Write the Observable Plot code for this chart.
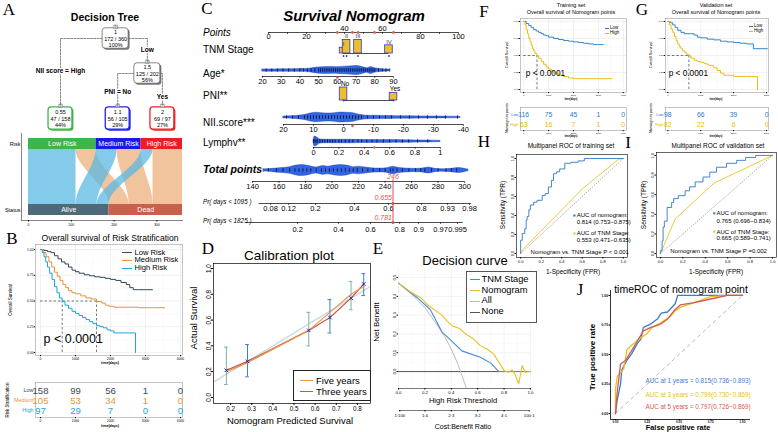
<!DOCTYPE html>
<html><head><meta charset="utf-8">
<script src="https://cdn.jsdelivr.net/npm/d3@7"></script>
<script src="https://cdn.jsdelivr.net/npm/@observablehq/plot@0.6"></script>
<style>
html,body{margin:0;padding:0;background:#fff;}
#root{position:relative;width:778px;height:432px;overflow:hidden;font-family:"Liberation Sans",Arial,sans-serif;color:#000;background:#fff;}
.t{position:absolute;white-space:nowrap;line-height:1;}
</style></head><body><div id="root"></div>
<script>
// ======================= DATA =======================
// A: decision tree
const treeIds = [1, 3, 2, 6, 7];
const treeParents = [null, 1, 1, 3, 3];
const treeValues = ["1", "1.5", "0.55", "1.1", "2"];
const treeFracs = ["172 / 360", "125 / 202", "47 / 158", "56 / 105", "69 / 97"];
const treePcts = ["100%", "56%", "44%", "29%", "27%"];
const treeEdgeLabels = [null, "Low", "NII score = High", "PNI = No", "Yes"];
// A: alluvial
const riskGroups = ["Low Risk", "Medium Risk", "High Risk"];
const statusGroups = ["Alive", "Dead"];
const aliveCounts = [111, 49, 28];
const deadCounts = [47, 56, 69];
const alluvialTicks = [0, 100, 200, 300];

// B: KM by risk group
const kmGroupsB = ["Low", "Medium", "High"];
const kmBLowT = [0,100,200,300,400,500,600,700,800,900,1000,1100,1250,1400,1550,1700,1850,2000,2150,2300,2450,2550,2650,2800,3000,3200];
const kmBLowS = [1,0.99,0.98,0.97,0.94,0.91,0.88,0.86,0.83,0.80,0.785,0.77,0.755,0.745,0.735,0.73,0.72,0.71,0.70,0.68,0.66,0.63,0.61,0.61,0.61,0.61];
const kmBMedT = [0,80,160,240,320,400,480,560,640,720,800,900,1000,1150,1300,1450,1600,1750,1850,1950,2100,2400,2800,3200,3550];
const kmBMedS = [1,0.97,0.93,0.88,0.83,0.78,0.74,0.70,0.66,0.63,0.60,0.58,0.57,0.55,0.53,0.52,0.495,0.48,0.46,0.45,0.44,0.44,0.435,0.435,0.435];
const kmBHighT = [0,50,100,150,200,260,330,400,470,540,620,700,800,900,1000,1100,1200,1300,1400,1500,1600,1700,1800,1900,2000,2100,2400,2714];
const kmBHighS = [1,0.97,0.93,0.88,0.83,0.77,0.71,0.64,0.58,0.53,0.495,0.46,0.43,0.40,0.38,0.36,0.34,0.32,0.30,0.28,0.26,0.25,0.24,0.22,0.21,0.19,0.19,0];
const kmTicks4 = [0, 1000, 2000, 3000, 4000];
const survTicks = [0, 0.25, 0.5, 0.75, 1];
const riskBLow = [158, 99, 56, 1, 0];
const riskBMedium = [105, 53, 34, 1, 0];
const riskBHigh = [97, 29, 7, 0, 0];
const pvalText = "p < 0.0001";

// C: nomogram
const pointsTicks = [0, 20, 40, 60, 80, 100];
const tnmStages = ["I", "II", "III", "IV"];
const tnmPoints = [39.5, 41.1, 47.1, 63.4];
const tnmProps = [0.14, 0.33, 0.33, 0.20];
const pniLevels = ["No", "Yes"];
const pniPoints = [39.5, 65.8];
const pniProps = [0.63, 0.37];
const ageTicks = [20, 30, 40, 50, 60, 70, 80, 90];
const ageAxisPts = [-3.2, 65.8];          // points at age 20 and 90
const niiTicks = [20, 10, 0, -10, -20, -30, -40];
const niiAxisPts = [7.9, 102.6];          // points at NII 20 and -40
const lymTicks = [0, 0.2, 0.4, 0.6, 0.8, 1];
const lymAxisPts = [23.7, 90.5];          // points at 0 and 1
const totTicks = [140, 160, 180, 200, 220, 240, 260, 280, 300];
const totAxisPts = [-8.4, 103.2];         // points at total 140 and 300
const pr1095Ticks = ["0.08","0.12","0.2","0.4","0.6","0.8","0.93","0.98"];
const pr1095AtTotal = [153.6,167.2,187.5,217,242.6,267.5,287.2,303.8];
const pr1825Ticks = ["0.2","0.4","0.6","0.8","0.9","0.97","0.995"];
const pr1825AtTotal = [174,204.9,229,251,265.3,281.9,294.7];
const ageDensX = [20,35,45,48,52,56,60,64,68,71,74,76,78,80,84,88];
const ageDensY = [0.25,0.3,0.4,0.6,0.75,0.8,0.75,0.85,0.95,1,0.7,0.5,0.8,0.5,0.3,0.2];
const ageObs = [22,25,28,31,34,37,40,42,44,46,48,50,51,52,53,54,55,56,57,58,59,60,61,62,63,64,65,66,67,68,69,70,71,72,73,74,75,76,77,78,79,80,82,84,86,88];
const niiDensX = [20,16,13,11,9,7,5,3,1,-1,-3,-5,-7,-10,-15,-20,-30,-39];
const niiDensY = [0.2,0.3,0.5,0.8,0.95,0.85,0.8,0.85,1,0.95,0.9,0.6,0.4,0.35,0.3,0.25,0.2,0.15];
const niiObs = [19,17,15,13,12,11,10,9,8,7,6,5,4,3,2,1,0,-1,-2,-3,-4,-5,-6,-8,-10,-12,-14,-16,-19,-22,-25,-28,-31,-34,-38];
const lymDensX = [0,0.01,0.03,0.05,0.1,0.2,0.3,0.4,0.5,0.6,0.7,0.85,1.0];
const lymDensY = [0.3,1,0.8,0.45,0.35,0.35,0.35,0.3,0.3,0.28,0.25,0.2,0.15];
const lymObs = [0,0.01,0.02,0.03,0.05,0.07,0.09,0.11,0.13,0.15,0.17,0.2,0.22,0.25,0.28,0.31,0.35,0.38,0.42,0.46,0.5,0.55,0.6,0.65,0.7,0.75,0.82,0.9];
const totDensX = [149,155,162,168,173,178,183,188,193,197,202,207,212,216,220,224,230,236,241,246,250,256,262,268,273,278,285,290,296,300,303];
const totDensY = [0.2,0.3,0.45,0.6,0.9,1,0.8,0.55,0.8,0.7,0.9,1,0.85,0.6,0.7,0.6,0.4,0.35,0.4,0.7,0.5,0.35,0.3,0.35,0.55,0.3,0.25,0.3,0.45,0.3,0.15];
const totObs = [148,152,158,163,168,172,175,178,181,184,188,192,195,198,201,204,207,210,213,216,219,223,227,231,236,240,244,246,249,253,258,263,267,270,275,280,286,290,294];
const selAge = 60, selTnm = "III", selPni = "Yes", selNii = -3, selLym = 0.48;
const selTotal = 246, selPr1095 = "0.655", selPr1825 = "0.781";

// D: calibration
const calibPred = [0.18, 0.28, 0.57, 0.67, 0.77, 0.83];
const calib3y = [0.21, 0.28, 0.52, 0.62, 0.77, 0.88];
const calib5y = [0.20, 0.27, 0.52, 0.66, 0.80, 0.86];
const calibLo = [0.10, 0.16, 0.40, 0.50, 0.68, 0.79];
const calibHi = [0.39, 0.41, 0.66, 0.76, 0.90, 0.96];
const calibXTicks = [0.2, 0.3, 0.4, 0.5, 0.6, 0.7, 0.8];
const calibYTicks = [0, 0.2, 0.4, 0.6, 0.8, 1];

// E: decision curve
const dcaNomT = [0,0.1,0.165,0.228,0.29,0.33,0.367,0.405,0.44,0.468,0.5,0.53,0.57,0.62,0.67,0.72,0.76,0.80,0.835,0.86,0.886,0.91,0.937,0.96,1.0];
const dcaNomNB = [0.47,0.42,0.394,0.35,0.32,0.30,0.27,0.244,0.235,0.226,0.205,0.19,0.173,0.138,0.12,0.094,0.05,0.005,-0.004,0.01,-0.02,-0.065,0.032,-0.004,0.0];
const dcaTnmT = [0,0.14,0.24,0.33,0.40,0.48,0.62,0.70,0.76,1.0];
const dcaTnmNB = [0.47,0.394,0.33,0.21,0.165,0.11,0.076,0.045,0.0,0.0];
const dcaAllT = [0,0.1,0.2,0.3,0.35,0.4,0.45,0.5,0.52];
const dcaAllNB = [0.47,0.41,0.34,0.24,0.185,0.12,0.04,-0.06,-0.1];
const dcaNoneT = [0, 1];
const dcaNoneNB = [0, 0];
const dcaXTicks = [0, 0.2, 0.4, 0.6, 0.8, 1];
const dcaYTicks = [0, 0.1, 0.2, 0.3, 0.4, 0.5];
const costThresh = [0.01, 0.2, 0.4, 0.6, 0.8, 0.99];
const costLabels = ["1:100", "1:4", "2:3", "3:2", "4:1", "100:1"];

// F: training KM
const kmGroupsFG = ["Low", "High"];
const kmFLowT = [0,100,200,300,400,500,600,700,800,900,1000,1200,1400,1600,1800,2000,2200,2400,2600,2800,3000,3200];
const kmFLowS = [1,0.97,0.94,0.91,0.88,0.86,0.84,0.82,0.80,0.79,0.77,0.75,0.735,0.72,0.71,0.70,0.69,0.68,0.67,0.66,0.66,0.66];
const kmFHighT = [0,50,100,150,200,250,300,350,400,450,533,600,700,800,900,1000,1100,1200,1400,1600,1800,2000,2500,3000,3550];
const kmFHighS = [1,0.95,0.88,0.82,0.76,0.70,0.65,0.60,0.57,0.53,0.495,0.46,0.41,0.37,0.33,0.30,0.27,0.24,0.21,0.19,0.17,0.16,0.16,0.16,0.16];
const riskFLow = [116, 75, 45, 1, 0];
const riskFHigh = [63, 16, 7, 1, 0];
// G: validation KM
const kmGLowT = [0,75,150,225,300,400,500,700,800,900,1000,1200,1400,1600,1800,2000,2200,2400,2600,2800,3030];
const kmGLowS = [1,0.98,0.95,0.91,0.87,0.84,0.82,0.82,0.80,0.77,0.76,0.74,0.73,0.71,0.70,0.69,0.68,0.67,0.60,0.60,0.60];
const kmGHighT = [0,50,100,150,200,250,300,350,400,450,500,560,640,700,800,900,1000,1100,1200,1300,1400,1500,1600,1700,2000,2400,2727];
const kmGHighS = [1,0.95,0.89,0.84,0.78,0.72,0.67,0.63,0.60,0.57,0.55,0.52,0.495,0.46,0.43,0.41,0.40,0.38,0.36,0.35,0.32,0.28,0.24,0.21,0.19,0.19,0];
const kmTicks3 = [0, 1000, 2000, 3000];
const riskGLow = [98, 66, 39, 0];
const riskGHigh = [82, 22, 6, 0];

// H, I: ROC
const rocTicks = [0, 0.2, 0.4, 0.6, 0.8, 1];
const hNomF = [0,0,0.016,0.04,0.054,0.063,0.08,0.095,0.127,0.16,0.21,0.24,0.27,0.30,0.32,0.35,0.38,0.43,0.49,0.56,0.62,0.68,1];
const hNomT = [0,0.105,0.14,0.21,0.26,0.35,0.39,0.46,0.51,0.54,0.56,0.61,0.63,0.70,0.77,0.84,0.86,0.89,0.95,0.96,0.975,1,1];
const hTnmF = [0, 0.02, 0.6, 0.95, 1];
const hTnmT = [0, 0.04, 0.68, 0.99, 1];
const hTexts = ["AUC of nomogram:", "0.814 (0.753\u22120.875)", "AUC of TNM Stage:", "0.553 (0.471\u22120.635)", "Nomogram vs. TNM Stage P < 0.001"];
const iNomF = [0,0.015,0.024,0.035,0.06,0.10,0.118,0.16,0.22,0.26,0.31,0.38,0.44,0.5,0.59,0.68,0.76,0.85,0.94,1];
const iNomT = [0,0.03,0.13,0.27,0.33,0.47,0.52,0.56,0.59,0.64,0.68,0.73,0.78,0.83,0.88,0.92,0.95,0.98,1,1];
const iTnmF = [0, 0.13, 0.48, 1];
const iTnmT = [0, 0.35, 0.72, 1];
const iTexts = ["AUC of nomogram:", "0.765 (0.696\u22120.834)", "AUC of TNM Stage:", "0.665 (0.589\u22120.741)", "Nomogram vs. TNM Stage P =0.002"];

// J: timeROC
const jTicks = [0, 0.25, 0.5, 0.75, 1];
const j1F = [0,0.013,0.04,0.05,0.09,0.13,0.17,0.2,0.22,0.28,0.33,0.36,0.41,0.47,0.49,1];
const j1T = [0,0.11,0.25,0.37,0.45,0.51,0.59,0.63,0.73,0.76,0.8,0.85,0.86,0.93,1,1];
const j3F = [0,0,0.013,0.066,0.09,0.13,0.17,0.25,0.29,0.36,0.43,0.46,0.51,0.62,0.75,0.88,1];
const j3T = [0.01,0.2,0.31,0.38,0.54,0.58,0.62,0.68,0.73,0.77,0.82,0.86,0.9,0.94,0.99,1,1];
const j5F = [0,0.013,0.04,0.08,0.12,0.17,0.22,0.28,0.36,0.41,0.46,0.51,0.62,0.75,0.88,1];
const j5T = [0,0.17,0.42,0.45,0.52,0.61,0.70,0.73,0.76,0.80,0.87,0.92,0.94,0.97,1,1];
const jTexts = ["AUC at 1 years = 0.815(0.736\u22120.893)", "AUC at 3 years = 0.799(0.730\u22120.869)", "AUC at 5 years = 0.797(0.726\u22120.869)"];

// ======================= HELPERS =======================
const root = document.getElementById("root");
const FONT = "'Liberation Sans', Arial, sans-serif";
const SERIF = "'Liberation Serif', 'DejaVu Serif', serif";
function put(svg, left, top) {
  svg.style.position = "absolute"; svg.style.left = left + "px"; svg.style.top = top + "px";
  svg.style.background = "transparent"; svg.style.overflow = "visible"; svg.style.maxWidth = "none";
  root.appendChild(svg);
}
function plot(o) {
  return Plot.plot({style: {fontFamily: FONT, background: "transparent", overflow: "visible"}, color: {type: "identity"}, ...o});
}
function T(s, x, y, o = {}) {
  const d = document.createElement("div");
  d.className = "t"; d.textContent = s;
  const a = o.anchor || "middle";
  const tx = a === "start" ? "0" : a === "end" ? "-100%" : "-50%";
  Object.assign(d.style, {left: x + "px", top: y + "px", fontSize: (o.size || 8) + "px",
    fontWeight: o.weight || "normal", fontStyle: o.style || "normal", color: o.color || "#000",
    fontFamily: o.family || FONT,
    transform: `translate(${tx},-50%)` + (o.rotate ? ` rotate(${o.rotate}deg)` : "")});
  root.appendChild(d);
}
function boxDiv(x, y, w, h, border) {
  const d = document.createElement("div");
  Object.assign(d.style, {position: "absolute", left: x + "px", top: y + "px", width: w + "px", height: h + "px",
    border: border, background: "#fff", boxSizing: "border-box"});
  root.appendChild(d);
}
function legendHTML(x, y, items, o = {}) {
  const size = o.size || 8, row = o.row || 10, sw = o.sw || 10, gap = o.gap || 2, lw = o.lw || 1.2;
  items.forEach(([label, color], i) => {
    const s = document.createElement("div");
    Object.assign(s.style, {position: "absolute", left: x + "px", top: (y + i * row - lw / 2) + "px",
      width: sw + "px", height: "0px", borderTop: `${lw}px solid ${color}`});
    root.appendChild(s);
    T(label, x + sw + gap, y + i * row, {anchor: "start", size, color: o.textColor || "#000"});
  });
}
const zipXY = (xs, ys, extra = {}) => xs.map((x, i) => ({x, y: ys[i], ...extra}));

// ======================= PANEL A =======================
T("A", 9, 9, {size: 17, family: SERIF});
T("Decision Tree", 105, 17, {size: 10.5, weight: "bold"});
{
  const nodes = treeIds.map((id, i) => ({id, parent: treeParents[i], value: treeValues[i], frac: treeFracs[i], pct: treePcts[i], edge: treeEdgeLabels[i]}));
  const byId = {}; nodes.forEach(n => byId[n.id] = n);
  // rpart.plot-like layout (layout constants, not data)
  const treeCol = {1: 1.06, 3: 1.67, 2: 0, 6: 1.10, 7: 1.96};
  const treeDepth = {1: 0, 3: 0.875, 2: 2, 6: 2, 7: 2};
  const labelFrac = {3: 0.34, 2: 0.4, 6: 0.4, 7: 0.53};
  nodes.forEach(n => { n.col = treeCol[n.id]; n.depth = treeDepth[n.id]; n.leaf = !treeParents.includes(n.id); });
  const leafColor = {2: "#3DB549", 6: "#2323E3", 7: "#EE2424"};
  const hw = n => n.leaf ? 0.23 : 0.25, hh = n => n.leaf ? 0.28 : 0.255;
  const edgePts = nodes.filter(n => n.parent != null).flatMap(n => {
    const p = byId[n.parent];
    return [{e: n.id, x: p.col, y: p.depth}, {e: n.id, x: n.col, y: p.depth}, {e: n.id, x: n.col, y: n.depth}];
  });
  const children = nodes.filter(n => n.parent != null);
  const svg = plot({width: 200, height: 115, margin: 0,
    x: {domain: [0, 2], range: [60, 164], axis: null}, y: {domain: [0, 2], range: [18, 98], axis: null},
    marks: [
      Plot.line(edgePts, {x: "x", y: "y", z: "e", stroke: "#555", strokeWidth: 0.7, strokeDasharray: "2,1.3"}),
      Plot.text(children, {x: "col", y: n => byId[n.parent].depth + labelFrac[n.id] * (n.depth - byId[n.parent].depth), text: "edge",
        fontSize: 6.5, fontWeight: "bold", fill: "#000", stroke: "white", strokeWidth: 2.5}),
      Plot.rect(nodes, {x1: n => n.col - hw(n), x2: n => n.col + hw(n), y1: n => n.depth - hh(n), y2: n => n.depth + hh(n),
        fill: n => n.leaf ? leafColor[n.id] : "#777", dx: 1.5, dy: 1.5, rx: 3}),
      Plot.rect(nodes, {x1: n => n.col - hw(n), x2: n => n.col + hw(n), y1: n => n.depth - hh(n), y2: n => n.depth + hh(n),
        fill: "white", stroke: n => n.leaf ? leafColor[n.id] : "#555", strokeWidth: n => n.leaf ? 1.3 : 0.7, rx: 3}),
      Plot.text(nodes, {x: "col", y: "depth", text: n => `${n.value}\n${n.frac}\n${n.pct}`, fontSize: 5.5, lineHeight: 1.15}),
      Plot.dot(nodes, {x: "col", y: n => n.depth - hh(n), dy: -1.5, symbol: "square", r: 2, fill: "#eee", stroke: "#444", strokeWidth: 0.4}),
      Plot.text(nodes, {x: "col", y: n => n.depth - hh(n), dy: -1.5, text: n => String(n.id), fontSize: 3.2})
    ]});
  put(svg, 0, 20);
}
{
  const riskColors = ["#3DB549", "#1A1AE6", "#EE1C25"];
  const riskTotals = riskGroups.map((g, i) => aliveCounts[i] + deadCounts[i]);
  let cum = 0;
  const riskRects = riskGroups.map((g, i) => { const r = {g, x1: cum, x2: cum + riskTotals[i], fill: riskColors[i]}; cum += riskTotals[i]; return r; });
  const aliveTotal = d3.sum(aliveCounts), deadTotal = d3.sum(deadCounts);
  const statusRects = [{g: statusGroups[0], x1: 0, x2: aliveTotal, fill: "#4E6A78"}, {g: statusGroups[1], x1: aliveTotal, x2: aliveTotal + deadTotal, fill: "#C8604C"}];
  const flows = []; let aCum = 0, dCum = aliveTotal;
  riskGroups.forEach((g, i) => {
    const t0 = riskRects[i].x1;
    flows.push({key: g + "D", top: [t0 + aliveCounts[i], riskRects[i].x2], bot: [dCum, dCum + deadCounts[i]], fill: "#EDB07C"});
    flows.push({key: g + "A", top: [t0, t0 + aliveCounts[i]], bot: [aCum, aCum + aliveCounts[i]], fill: "#5BB8E4"});
    aCum += aliveCounts[i]; dCum += deadCounts[i];
  });
  flows.sort((a, b) => (a.key.endsWith("D") ? 0 : 1) - (b.key.endsWith("D") ? 0 : 1));
  const Y0 = 0.143, Y1 = 0.857;
  const flowPts = flows.flatMap(f => d3.range(0, 31).map(k => {
    const t = k / 30, s = t * t * (3 - 2 * t);
    return {key: f.key, fill: f.fill, y: Y0 + (Y1 - Y0) * t, x1: f.top[0] + (f.bot[0] - f.top[0]) * s, x2: f.top[1] + (f.bot[1] - f.top[1]) * s};
  }));
  const svg = plot({width: 190, height: 100, marginLeft: 21, marginRight: 7, marginTop: 3, marginBottom: 10,
    x: {domain: [-16.4, 362.3], axis: null}, y: {domain: [-0.065, 1.065], reverse: true, axis: null},
    marks: [
      Plot.areaX(flowPts, {y: "y", x1: "x1", x2: "x2", z: "key", fill: "fill", fillOpacity: 0.75}),
      Plot.rect(riskRects, {x1: "x1", x2: "x2", y1: () => 0, y2: () => Y0, fill: "fill"}),
      Plot.rect(statusRects, {x1: "x1", x2: "x2", y1: () => Y1, y2: () => 1, fill: "fill"}),
      Plot.text(riskRects, {x: d => (d.x1 + d.x2) / 2, y: () => Y0 / 2, text: "g", fill: "white", fontSize: 7}),
      Plot.text(statusRects, {x: d => (d.x1 + d.x2) / 2, y: () => (Y1 + 1) / 2, text: "g", fill: "white", fontSize: 7}),
      Plot.ruleX([-16.4], {stroke: "#333", strokeWidth: 0.6}),
      Plot.ruleY([1.065], {stroke: "#333", strokeWidth: 0.6}),
      Plot.axisX({ticks: alluvialTicks, tickSize: 1.5, tickPadding: 1, fontSize: 3.5, label: null}),
      Plot.text(["Risk", "Status"], {frameAnchor: "left", y: (d, i) => i ? (Y1 + 1) / 2 : Y0 / 2, text: d => d, textAnchor: "end", dx: -1, fontSize: 5.5})
    ]});
  put(svg, 0, 130);
}

// ======================= KM helper =======================
function median(ts, ss) { const j = ss.findIndex(v => v <= 0.5); return j < 0 ? null : ts[j]; }
function kmPanel(o) {
  const rows = o.groups.flatMap((g, i) => o.ts[i].map((t, j) => ({g, t, s: o.ss[i][j]})));
  const meds = o.groups.map((g, i) => median(o.ts[i], o.ss[i])).filter(d => d != null);
  const mx = d3.max(meds);
  const xMinor = o.xticks.slice(0, -1).map(d => d + (o.xticks[1] - o.xticks[0]) / 2);
  const svg = plot({width: o.w, height: o.h, marginLeft: o.mL, marginRight: o.mR, marginTop: o.mT, marginBottom: o.mB,
    x: {domain: o.xDom, axis: null}, y: {domain: o.yDom, axis: null},
    marks: [
      Plot.gridX(xMinor, {stroke: "#f2f2f2", strokeOpacity: 1, strokeWidth: 0.4}),
      Plot.gridY([0.125, 0.375, 0.625, 0.875], {stroke: "#f2f2f2", strokeOpacity: 1, strokeWidth: 0.4}),
      Plot.gridX(o.xticks, {stroke: "#e2e2e2", strokeOpacity: 1, strokeWidth: 0.5}),
      Plot.gridY(survTicks, {stroke: "#e2e2e2", strokeOpacity: 1, strokeWidth: 0.5}),
      Plot.frame({stroke: "#8a8a8a", strokeWidth: 0.5}),
      Plot.ruleY([0.5], {x1: () => 0, x2: () => mx, stroke: "#222", strokeDasharray: "2.5,2", strokeWidth: 0.6}),
      Plot.ruleX(meds, {x: d => d, y1: () => 0, y2: () => 0.5, stroke: "#222", strokeDasharray: "2.5,2", strokeWidth: 0.6}),
      Plot.line(rows, {x: "t", y: "s", z: "g", stroke: d => o.colors[d.g], curve: "step-after", strokeWidth: o.lw}),
      Plot.text([pvalText], {x: () => o.pXY[0], y: () => o.pXY[1], text: d => d, fontSize: o.pfs, textAnchor: "start"}),
      Plot.axisX({ticks: o.xticks, tickFormat: d => String(d), tickSize: 1.2, tickPadding: 0.8, fontSize: o.fs, label: null}),
      Plot.axisY({ticks: survTicks, tickFormat: d3.format(".2f"), tickSize: 1.2, tickPadding: 0.8, fontSize: o.fs, label: null})
    ]});
  put(svg, o.left, o.top);
}
function riskTable(o) {
  const rows = o.groups.flatMap((g, i) => o.xticks.map((t, j) => ({g, t, n: String(o.counts[i][j])})));
  const svg = plot({width: o.w, height: o.h, marginLeft: o.mL, marginRight: o.mR, marginTop: o.mT, marginBottom: o.mB,
    x: {domain: o.xDom, axis: null}, y: {type: "point", domain: o.groups, padding: o.pad, axis: null},
    marks: [
      Plot.frame({stroke: "#8a8a8a", strokeWidth: 0.5}),
      Plot.text(rows, {x: "t", y: "g", text: "n", fill: d => o.colors[d.g], fontSize: o.nfs}),
      Plot.text(o.groups, {frameAnchor: "left", y: d => d, text: d => d, fill: d => o.colors[d], textAnchor: "end", dx: -2, fontSize: o.lfs}),
      Plot.axisX({ticks: o.xticks, tickFormat: d => String(d), tickSize: 1.2, tickPadding: 0.8, fontSize: o.fs, label: null})
    ]});
  put(svg, o.left, o.top);
}

// ======================= PANEL B =======================
const colB = {Low: "#2F4A59", Medium: "#E8923A", High: "#1AA6DA"};
T("B", 12, 238, {size: 17, family: SERIF});
T("Overall survival of Risk Stratification", 110, 238, {size: 8.6});
kmPanel({left: 0, top: 240, w: 190, h: 140, mL: 35, mR: 8, mT: 4, mB: 25, xDom: [-143, 4057], yDom: [-0.029, 1.049],
  groups: kmGroupsB, ts: [kmBLowT, kmBMedT, kmBHighT], ss: [kmBLowS, kmBMedS, kmBHighS], colors: colB,
  xticks: kmTicks4, fs: 3.3, lw: 1, pXY: [86, 0.136], pfs: 12.5});
legendHTML(122, 252.5, [["Low Risk", colB.Low], ["Medium Risk", colB.Medium], ["High Risk", colB.High]], {size: 7.6, row: 7.8, sw: 10, gap: 2.5, lw: 1.1});
T("Overall Survival", 11, 300, {size: 4.5, rotate: -90});
T("time(days)", 110, 363.5, {size: 3.6, weight: "bold"});
riskTable({left: 0, top: 375, w: 190, h: 57, mL: 35, mR: 8, mT: 7, mB: 15, xDom: [-143, 4057],
  groups: kmGroupsB, counts: [riskBLow, riskBMedium, riskBHigh], colors: colB, xticks: kmTicks4, pad: 0.6, nfs: 9.5, lfs: 5.5, fs: 3.3});
T("Risk Stratification", 8, 400, {size: 4.5, rotate: -90});
T("time(days)", 110, 426.5, {size: 3.6, weight: "bold"});

// ======================= PANEL C =======================
T("C", 207, 8, {size: 17, family: SERIF});
T("Survival Nomogram", 354, 15, {size: 15, weight: "bold", style: "italic"});
{
  const NY = {points: 32, tnm: 53, ageV: 70, age: 76, pni: 100, niiV: 117, nii: 124, lymV: 141, lym: 147, totV: 170, tot: 181, p3: 203, p5: 222};
  const toAge = d3.scaleLinear([20, 90], ageAxisPts);
  const toNii = d3.scaleLinear([20, -40], niiAxisPts);
  const toLym = d3.scaleLinear([0, 1], lymAxisPts);
  const toTot = d3.scaleLinear([140, 300], totAxisPts);
  function nAxis(items, yl, ldy, fs = 7.5, ext = [0, 0]) {
    const xs = items.map(d => d.x); const lo = d3.min(xs) - ext[0], hi = d3.max(xs) + ext[1];
    return [
      Plot.ruleY([yl], {x1: () => lo, x2: () => hi, stroke: "#000", strokeWidth: 0.7}),
      Plot.ruleX(items, {x: "x", y1: () => yl, y2: () => yl + 2, stroke: "#000", strokeWidth: 0.6}),
      Plot.text(items, {x: "x", y: d => yl + (d.dy ?? ldy), text: "label", fontSize: fs})
    ];
  }
  function violin(xs, ds, conv, yc, k, obs) {
    const pts = xs.map((x, i) => ({x: conv(x), h: ds[i] * k}));
    return [
      Plot.areaY(pts, {x: "x", y1: d => yc - d.h, y2: d => yc + d.h, curve: "catmull-rom", fill: "#3165E3", stroke: "#1B3AB0", strokeWidth: 0.4}),
      Plot.ruleX(obs, {x: conv, y1: () => yc - 1.7, y2: () => yc + 1.7, stroke: "#000", strokeWidth: 0.7})
    ];
  }
  const tnm = tnmStages.map((s, i) => ({s, x: tnmPoints[i], h: 13.5 * tnmProps[i] / d3.max(tnmProps)}));
  const pni = pniLevels.map((s, i) => ({s, x: pniPoints[i], h: 13 * pniProps[i] / d3.max(pniProps)}));
  const selPts = [toAge(selAge), tnmPoints[tnmStages.indexOf(selTnm)], pniPoints[pniLevels.indexOf(selPni)], toNii(selNii), toLym(selLym)];
  const xSel = toTot(selTotal);
  const red = "#D9534F";
  const pointsItems = d3.range(0, 101, 10).map(v => ({x: v, label: pointsTicks.includes(v) ? String(v) : "", dy: (v === 40 || v === 60) ? -4 : 4.5}));
  const svg = plot({width: 278, height: 235, margin: 0,
    x: {domain: [0, 100], range: [68, 258], axis: null}, y: {domain: [0, 235], range: [0, 235], axis: null},
    marks: [
      ...nAxis(pointsItems, NY.points, 4.5),
      // TNM stage
      Plot.ruleY([NY.tnm], {x1: () => d3.min(tnmPoints), x2: () => d3.max(tnmPoints), stroke: "#000", strokeWidth: 0.7}),
      Plot.rect(tnm, {x1: d => d.x - 2, x2: d => d.x + 2, y1: d => NY.tnm - d.h, y2: () => NY.tnm, fill: "#EBC12B", stroke: "#3535C8", strokeWidth: 0.8}),
      Plot.text(tnm, {x: "x", y: d => NY.tnm - d.h - 3.5, text: "s", fontSize: 6, fill: "#444"}),
      Plot.dot(tnm, {x: "x", y: () => NY.tnm + 2.5, r: 0.9, fill: "#3535C8"}),
      // Age
      ...violin(ageDensX, ageDensY, toAge, NY.ageV, 4.5, ageObs),
      ...nAxis(ageTicks.map(v => ({x: toAge(v), label: String(v)})), NY.age, 5.5),
      // PNI
      Plot.ruleY([NY.pni], {x1: () => d3.min(pniPoints), x2: () => d3.max(pniPoints), stroke: "#000", strokeWidth: 0.7}),
      Plot.rect(pni, {x1: d => d.x - 2, x2: d => d.x + 2, y1: d => NY.pni - d.h, y2: () => NY.pni, fill: "#EBC12B", stroke: "#3535C8", strokeWidth: 0.8}),
      Plot.text(pni, {x: "x", y: d => NY.pni - d.h - 3.5, text: "s", fontSize: 6.5, dx: 1.5}),
      Plot.dot(pni, {x: "x", y: () => NY.pni, r: 0.9, fill: "#3535C8"}),
      // NII score
      ...violin(niiDensX, niiDensY, toNii, NY.niiV, 5, niiObs),
      ...nAxis(niiTicks.map(v => ({x: toNii(v), label: String(v)})), NY.nii, 5.5),
      // Lymphv
      ...violin(lymDensX, lymDensY, toLym, NY.lymV, 5, lymObs),
      ...nAxis(lymTicks.map(v => ({x: toLym(v), label: String(v)})), NY.lym, 5.5),
      // Total points
      ...violin(totDensX, totDensY, toTot, NY.totV, 5.5, totObs),
      ...nAxis(totTicks.map(v => ({x: toTot(v), label: String(v)})), NY.tot, 5.5),
      // probabilities
      ...nAxis(pr1095Ticks.map((p, i) => ({x: toTot(pr1095AtTotal[i]), label: p})), NY.p3, 5.5, 7.5, [6, 1]),
      ...nAxis(pr1825Ticks.map((p, i) => ({x: toTot(pr1825AtTotal[i]), label: p})), NY.p5, 7.5, 7.5, [27, 3]),
      // selected patient (red)
      Plot.dot(selPts, {x: d => d, y: () => NY.points, r: 1.4, fill: "#E0605A"}),
      Plot.dot([toAge(selAge)], {x: d => d, y: () => NY.age + 1, r: 1.3, fill: "#E0605A"}),
      Plot.dot([toNii(selNii)], {x: d => d, y: () => NY.nii + 1.5, r: 1.3, fill: "#E0605A"}),
      Plot.dot([toLym(selLym)], {x: d => d, y: () => NY.lym, r: 1.3, fill: "#E0605A"}),
      Plot.ruleX([xSel], {x: d => d, y1: () => 179, y2: () => NY.p5, stroke: red, strokeWidth: 1}),
      Plot.text([String(selTotal)], {x: () => xSel, y: () => 176, text: d => d, fill: red, fontStyle: "italic", fontSize: 7}),
      Plot.text([selPr1095], {x: () => xSel, y: () => 197.5, text: d => d, fill: red, fontStyle: "italic", fontSize: 7, textAnchor: "end", dx: -1}),
      Plot.text([selPr1825], {x: () => xSel, y: () => 217, text: d => d, fill: red, fontStyle: "italic", fontSize: 7, textAnchor: "end", dx: -1}),
      Plot.dot([NY.p3, NY.p5], {x: () => xSel, y: d => d, r: 1.5, fill: red})
    ]});
  put(svg, 200, 0);
  T("Points", 203, 33, {size: 10, style: "italic", anchor: "start"});
  T("TNM Stage", 203, 49.5, {size: 10, anchor: "start"});
  T("Age*", 203, 74, {size: 10, anchor: "start"});
  T("PNI**", 203, 96, {size: 10, anchor: "start"});
  T("NII.score***", 203, 122.5, {size: 10, anchor: "start"});
  T("Lymphv**", 203, 142.5, {size: 10, anchor: "start"});
  T("Total points", 203, 168.5, {size: 10.5, style: "italic", weight: "bold", anchor: "start"});
  T("Pr( days < 1095 )", 203, 201.5, {size: 6.3, style: "italic", anchor: "start"});
  T("Pr( days < 1825 )", 203, 220.5, {size: 6.3, style: "italic", anchor: "start"});
}

// ======================= PANEL D =======================
T("D", 208, 248, {size: 17, family: SERIF});
T("Calibration plot", 289, 256, {size: 13.5});
{
  const calib = calibPred.map((p, i) => ({p, o3: calib3y[i], o5: calib5y[i], lo: calibLo[i], hi: calibHi[i], c: i % 2 ? "#3C80C4" : "#7FB39B"}));
  const xd = [0.119, 0.862];
  const svg = plot({width: 180, height: 172, marginLeft: 18, marginRight: 5, marginTop: 5, marginBottom: 27,
    x: {domain: xd, axis: null}, y: {domain: [-0.047, 1.039], axis: null},
    marks: [
      Plot.link([xd], {x1: d => d[0], y1: d => d[0], x2: d => d[1], y2: d => d[1], stroke: "#C9DCE4", strokeWidth: 1.6}),
      Plot.ruleX(calib, {x: "p", y1: "lo", y2: "hi", stroke: "c", strokeWidth: 1}),
      Plot.ruleY(calib, {y: "lo", x1: d => d.p - 0.009, x2: d => d.p + 0.009, stroke: "c", strokeWidth: 1}),
      Plot.ruleY(calib, {y: "hi", x1: d => d.p - 0.009, x2: d => d.p + 0.009, stroke: "c", strokeWidth: 1}),
      Plot.line(calib, {x: "p", y: "o3", stroke: "#CC5544", strokeWidth: 1.2}),
      Plot.line(calib, {x: "p", y: "o5", stroke: "#E89A4C", strokeWidth: 1.2}),
      Plot.dot(calib, {x: "p", y: "o3", symbol: "times", r: 1.8, stroke: "#2A2AD0", strokeWidth: 1}),
      Plot.frame({stroke: "#000", strokeWidth: 0.7}),
      Plot.axisX({ticks: calibXTicks, tickFormat: d3.format(".1f"), tickSize: 2, tickPadding: 1, fontSize: 6.3, label: null}),
      Plot.axisY({ticks: calibYTicks, tickFormat: d3.format(".1f"), tickSize: 2, tickPadding: 1, fontSize: 6.3, tickRotate: -90, label: null})
    ]});
  put(svg, 195, 258);
  boxDiv(293, 370, 78, 31, "1px solid #222");
  legendHTML(300, 381, [["Five years", "#E89A4C"], ["Three years", "#CC5544"]], {size: 9.5, row: 11, sw: 13, gap: 3, lw: 1.3});
  T("Nomogram Predicted Survival", 290, 421, {size: 9.5});
  T("Actual Survival", 194, 318, {size: 9.5, rotate: -90});
}

// ======================= PANEL E =======================
T("E", 378, 248, {size: 17, family: SERIF});
T("Decision curve", 465, 260, {size: 13});
{
  const cNom = "#E8C22A", cTnm = "#4A8AD0", cAll = "#BDBDBD", cNone = "#555";
  const svg = plot({width: 170, height: 170, marginLeft: 26, marginRight: 12, marginTop: 6, marginBottom: 44,
    x: {domain: [0, 1], axis: null}, y: {domain: [-0.09, 0.548], axis: null},
    marks: [
      Plot.gridX([0.1, 0.3, 0.5, 0.7, 0.9], {stroke: "#f3f3f3", strokeOpacity: 1, strokeWidth: 0.4}),
      Plot.gridY([0.05, 0.15, 0.25, 0.35, 0.45], {stroke: "#f3f3f3", strokeOpacity: 1, strokeWidth: 0.4}),
      Plot.gridX(dcaXTicks, {stroke: "#e6e6e6", strokeOpacity: 1, strokeWidth: 0.5}),
      Plot.gridY(dcaYTicks, {stroke: "#e6e6e6", strokeOpacity: 1, strokeWidth: 0.5}),
      Plot.line(zipXY(dcaNoneT, dcaNoneNB), {x: "x", y: "y", stroke: cNone, strokeWidth: 1}),
      Plot.line(zipXY(dcaAllT, dcaAllNB), {x: "x", y: "y", stroke: cAll, strokeWidth: 1, clip: true}),
      Plot.line(zipXY(dcaTnmT, dcaTnmNB), {x: "x", y: "y", stroke: cTnm, strokeWidth: 1.1}),
      Plot.line(zipXY(dcaNomT, dcaNomNB), {x: "x", y: "y", stroke: cNom, strokeWidth: 1.1}),
      Plot.ruleY([-0.09], {x1: () => 0, x2: () => 1, stroke: "#222", strokeWidth: 0.6}),
      Plot.axisX({ticks: dcaXTicks, tickFormat: d3.format(".1f"), tickSize: 1.5, tickPadding: 1, fontSize: 4.3, label: null}),
      Plot.axisY({ticks: dcaYTicks, tickFormat: d3.format(".1f"), tickSize: 1.5, tickPadding: 1, fontSize: 4.3, tickRotate: -90, label: null})
    ]});
  put(svg, 372, 262);
  const svg2 = plot({width: 170, height: 20, marginLeft: 26, marginRight: 12, marginTop: 0, marginBottom: 15,
    x: {domain: [0, 1], axis: null}, y: {domain: [0, 1], axis: null},
    marks: [
      Plot.ruleY([0], {x1: () => costThresh[0], x2: () => costThresh[costThresh.length - 1], stroke: "#222", strokeWidth: 0.6}),
      Plot.axisX({ticks: costThresh, tickFormat: (d, i) => costLabels[costThresh.indexOf(d)], tickSize: 1.5, tickPadding: 1.5, fontSize: 4.3, label: null})
    ]});
  put(svg2, 372, 405);
  T("Net Benefit", 377, 322, {size: 8, rotate: -90});
  T("High Risk Threshold", 463, 400.5, {size: 7.6});
  T("Cost:Benefit Ratio", 463, 425.5, {size: 7});
  boxDiv(466, 271, 71, 52, "1px solid #555");
  legendHTML(470, 280, [["TNM Stage", cTnm], ["Nomogram", cNom], ["All", cAll], ["None", cNone]], {size: 9.3, row: 10.7, sw: 10, gap: 1.5, lw: 1.2});
}

// ======================= PANELS F, G =======================
const colFG = {Low: "#1F78C8", High: "#E8B800"};
T("F", 484, 11, {size: 17, family: SERIF});
T("Training set", 571, 6, {size: 5.5});
T("Overall survival of Nomogram points", 571, 13, {size: 5.5});
kmPanel({left: 490, top: 14, w: 140, h: 84, mL: 30, mR: 4, mT: 4, mB: 6, xDom: [-130, 4130], yDom: [-0.044, 1.044],
  groups: kmGroupsFG, ts: [kmFLowT, kmFHighT], ss: [kmFLowS, kmFHighS], colors: colFG,
  xticks: kmTicks4, fs: 2.4, lw: 0.9, pXY: [80, 0.24], pfs: 8.3});
legendHTML(605, 28, [["Low", colFG.Low], ["High", colFG.High]], {size: 4.5, row: 5, sw: 4, gap: 1, lw: 0.9});
T("Overall Survival", 508, 55, {size: 3.8, rotate: -90});
T("time(days)", 571, 99.5, {size: 2.6, weight: "bold"});
riskTable({left: 490, top: 104, w: 140, h: 30, mL: 30, mR: 4, mT: 3, mB: 4, xDom: [-130, 4130],
  groups: kmGroupsFG, counts: [riskFLow, riskFHigh], colors: colFG, xticks: kmTicks4, pad: 0.6, nfs: 6.8, lfs: 4, fs: 2.4});
T("Nomogram points", 508, 118, {size: 3.8, rotate: -90});
T("time(days)", 571, 137, {size: 2.6, weight: "bold"});

T("G", 642, 9, {size: 17, family: SERIF});
T("Validation set", 716, 6, {size: 5.5});
T("Overall survival of Nomogram points", 716, 13, {size: 5.5});
kmPanel({left: 635, top: 14, w: 143, h: 84, mL: 30, mR: 10, mT: 4, mB: 6, xDom: [-70, 3060], yDom: [-0.044, 1.044],
  groups: kmGroupsFG, ts: [kmGLowT, kmGHighT], ss: [kmGLowS, kmGHighS], colors: colFG,
  xticks: kmTicks3, fs: 2.4, lw: 0.9, pXY: [25, 0.24], pfs: 8.3});
legendHTML(749, 26, [["Low", colFG.Low], ["High", colFG.High]], {size: 4.5, row: 5, sw: 4, gap: 1, lw: 0.9});
T("Overall Survival", 652, 55, {size: 3.8, rotate: -90});
T("time(days)", 716, 99.5, {size: 2.6, weight: "bold"});
riskTable({left: 635, top: 104, w: 143, h: 30, mL: 30, mR: 10, mT: 3, mB: 4, xDom: [-70, 3060],
  groups: kmGroupsFG, counts: [riskGLow, riskGHigh], colors: colFG, xticks: kmTicks3, pad: 0.6, nfs: 6.8, lfs: 4, fs: 2.4});
T("Nomogram points", 652, 118, {size: 3.8, rotate: -90});
T("time(days)", 716, 137, {size: 2.6, weight: "bold"});

// ======================= PANELS H, I =======================
function rocPanel(o) {
  const blue = "#2F79C7", yel = "#EBC12B";
  const lines = [o.texts[0], o.texts[1], o.texts[2], o.texts[3]].map((t, i) => ({t, y: o.ty[i], sq: i === 0 ? blue : i === 2 ? yel : null}));
  const svg = plot({width: o.w, height: o.h, marginLeft: o.mL, marginRight: o.mR, marginTop: o.mT, marginBottom: o.mB,
    x: {domain: o.xDom, axis: null}, y: {domain: o.yDom, axis: null},
    marks: [
      Plot.link([[0, 1]], {x1: d => d[0], y1: d => d[0], x2: d => d[1], y2: d => d[1], stroke: "#777", strokeDasharray: "1.5,1.2", strokeWidth: 0.6}),
      Plot.line(zipXY(o.tnmF, o.tnmT), {x: "x", y: "y", stroke: yel, strokeWidth: 0.9}),
      Plot.line(zipXY(o.nomF, o.nomT), {x: "x", y: "y", stroke: blue, strokeWidth: 0.9, curve: "step-before"}),
      Plot.frame({stroke: "#000", strokeWidth: 0.6}),
      Plot.dot(lines.filter(d => d.sq), {x: () => o.tx, y: "y", dx: -2.2, symbol: "square", r: 1.2, fill: d => d.sq}),
      Plot.text(lines, {x: () => o.tx, y: "y", text: "t", textAnchor: "start", fontSize: 6}),
      Plot.text([o.texts[4]], {x: () => o.px, y: () => o.py, text: d => d, textAnchor: "start", fontSize: 6}),
      Plot.axisX({ticks: rocTicks, tickFormat: d3.format(".1f"), tickSize: 1.5, tickPadding: 1, fontSize: 4, label: null}),
      Plot.axisY({ticks: rocTicks, tickFormat: d3.format(".1f"), tickSize: 1.5, tickPadding: 1, fontSize: 4, tickRotate: -90, label: null})
    ]});
  put(svg, o.left, o.top);
}
T("H", 484, 141, {size: 17, family: SERIF});
T("Multipanel ROC of training set", 571, 146, {size: 6.5});
rocPanel({left: 490, top: 145, w: 140, h: 132, mL: 26, mR: 3, mT: 9, mB: 20, xDom: [-0.04, 1.04], yDom: [-0.042, 1.042],
  nomF: hNomF, nomT: hNomT, tnmF: hTnmF, tnmT: hTnmT, texts: hTexts, tx: 0.545, ty: [0.40, 0.326, 0.21, 0.137], px: 0.097, py: 0.01});
T("1-Specificity (FPR)", 573, 272, {size: 6.5});
T("Sensitivity (TPR)", 503, 205, {size: 6.5, rotate: -90});

T("I", 628, 142, {size: 17, family: SERIF});
T("Multipanel ROC of validation set", 718, 146, {size: 6.5});
rocPanel({left: 630, top: 145, w: 148, h: 132, mL: 26, mR: 2, mT: 7, mB: 20, xDom: [-0.035, 1.035], yDom: [-0.04, 1.03],
  nomF: iNomF, nomT: iNomT, tnmF: iTnmF, tnmT: iTnmT, texts: iTexts, tx: 0.50, ty: [0.41, 0.327, 0.224, 0.153], px: 0.088, py: 0.03});
T("1-Specificity (FPR)", 716, 272, {size: 6.5});
T("Sensitivity (TPR)", 644, 205, {size: 6.5, rotate: -90});

// ======================= PANEL J =======================
T("J", 580, 289, {size: 17, family: SERIF});
T("timeROC of nomogram point", 681, 289, {size: 10.5});
{
  const cols = ["#3A7DC9", "#E8C020", "#D45A4F"];
  const rows = [[j1F, j1T], [j3F, j3T], [j5F, j5T]].flatMap(([f, t], k) => f.map((x, i) => ({x, y: t[i], k})));
  const xd = [-0.039, 1.063], yd = [-0.05, 1.042];
  const svg = plot({width: 200, height: 148, marginLeft: 32, marginRight: 28, marginTop: 6, marginBottom: 13,
    x: {domain: xd, axis: null}, y: {domain: yd, axis: null},
    marks: [
      Plot.link([[0, 1]], {x1: d => d[0], y1: d => d[0], x2: d => d[1], y2: d => d[1], stroke: "#BBBBBB", strokeDasharray: "4,3", strokeWidth: 1}),
      Plot.line(rows, {x: "x", y: "y", z: "k", stroke: d => cols[d.k], strokeWidth: 1.3}),
      Plot.ruleX([xd[0]], {stroke: "#000", strokeWidth: 0.8}),
      Plot.ruleY([yd[0]], {stroke: "#000", strokeWidth: 0.8}),
      Plot.text(jTexts, {x: () => xd[1], y: (d, i) => [0.28, 0.16, 0.055][i], text: d => d, fill: (d, i) => cols[i], textAnchor: "end", fontSize: 6.3}),
      Plot.axisX({ticks: jTicks, tickFormat: d3.format(".2f"), tickSize: 1.2, tickPadding: 0.6, fontSize: 3, fontWeight: "bold", label: null}),
      Plot.axisY({ticks: jTicks, tickFormat: d3.format(".2f"), tickSize: 1.5, tickPadding: 1, fontSize: 3.3, fontWeight: "bold", label: null})
    ]});
  put(svg, 578, 284);
  T("False positive rate", 678, 428.3, {size: 7.4, weight: "bold"});
  T("True positive rate", 593, 357, {size: 8, weight: "bold", rotate: -90});
}
</script></body></html>
